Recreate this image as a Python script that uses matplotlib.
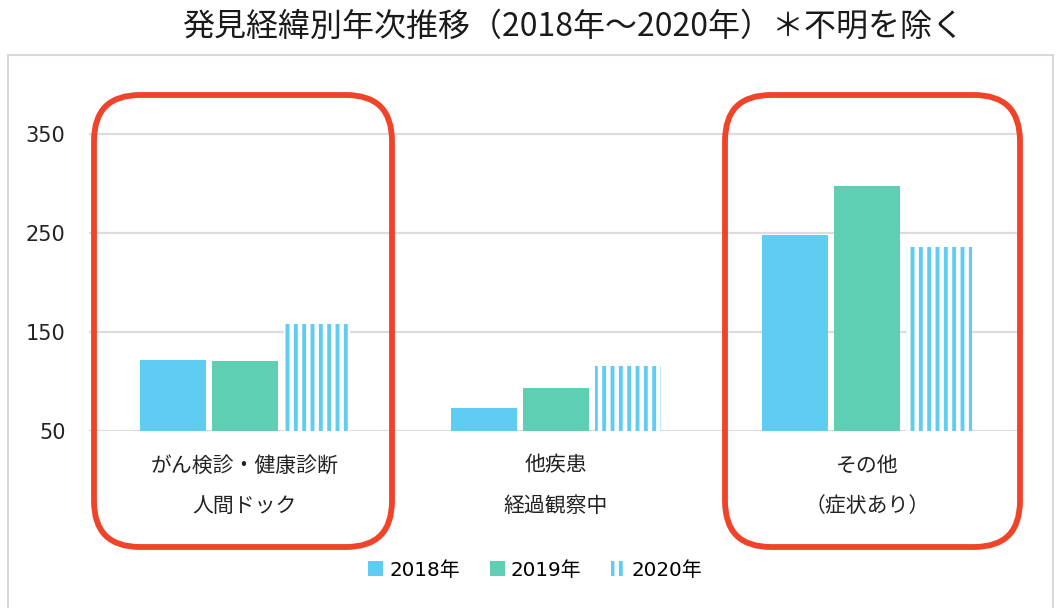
import numpy as np
import matplotlib
matplotlib.use('Agg')
import matplotlib.pyplot as plt
from matplotlib.patches import Patch, Rectangle, FancyBboxPatch

# data
categories = ['がん検診・健康診断\n人間ドック', '他疾患\n経過観察中', 'その他\n（症状あり）']
years = ['2018年', '2019年', '2020年']
v2018 = [122, 73, 248]
v2019 = [121, 93, 297]
v2020 = [158, 116, 236]
yticks = [50, 150, 250, 350]

blue = '#5fcdf2'
green = '#5ecfb2'
red = '#f0442a'
grid_c = '#dcdcdc'

plt.rcParams['font.family'] = ['DejaVu Sans', 'Noto Sans CJK JP']
plt.rcParams['hatch.linewidth'] = 2.8
plt.rcParams['hatch.color'] = blue

W, H = 1058, 608
fig = plt.figure(figsize=(W / 100, H / 100), dpi=100)
ax = fig.add_axes([89 / W, (H - 431) / H, 934 / W, 331 / H])

x = np.arange(len(categories))
step = 0.2315
w = 0.212
ax.bar(x - step, v2018, w, color=blue, zorder=2)
ax.bar(x, v2019, w, color=green, zorder=2)
ax.bar(x + step, v2020, w, color='white', edgecolor=blue, hatch='||', linewidth=0, zorder=2)

ax.set_xlim(-0.5, 2.5)
ax.set_ylim(50, 50 + 331 / 0.99)
ax.set_yticks(yticks)
ax.yaxis.grid(True, color=grid_c, lw=1.6)
ax.set_axisbelow(True)
for s in ax.spines.values():
    s.set_visible(False)
ax.tick_params(axis='y', length=0, pad=17, labelsize=15, labelcolor='#222222')
ax.set_xticks(x, categories)
ax.tick_params(axis='x', length=0, pad=17, labelsize=15, labelcolor='#222222')
for t in ax.get_xticklabels():
    t.set_linespacing(2.1)
    t.set_family(['Noto Sans CJK JP', 'DejaVu Sans'])

# outer frame
fig.patches.append(Rectangle((0.08, -0.1), 10.45, 5.63, transform=fig.dpi_scale_trans,
                             fill=False, ec='#d9d9d9', lw=1.5, zorder=0.5))
# red highlight boxes
for x0, bw in [(0.94, 2.98), (7.25, 2.95)]:
    fig.patches.append(FancyBboxPatch((x0, 0.61), bw, 4.52,
                                      boxstyle='round,pad=0,rounding_size=0.46',
                                      transform=fig.dpi_scale_trans,
                                      fill=False, ec=red, lw=4.2, zorder=3))

handles = [Patch(facecolor=blue), Patch(facecolor=green),
           Patch(facecolor='white', edgecolor=blue, hatch='||', lw=0)]
fig.legend(handles, years, loc='center', bbox_to_anchor=(0.506, 0.0625), ncol=3,
           frameon=False, fontsize=14.3, handlelength=0.75, handleheight=0.75,
           handletextpad=0.3, columnspacing=1.5)

fig.text(573 / W, (H - 27) / H, '発見経緯別年次推移（2018年～2020年）＊不明を除く',
         ha='center', va='center', fontsize=23, color='#1a1a1a',
         family=['Noto Sans CJK JP', 'DejaVu Sans'])

fig.savefig('out.png', dpi=100)
